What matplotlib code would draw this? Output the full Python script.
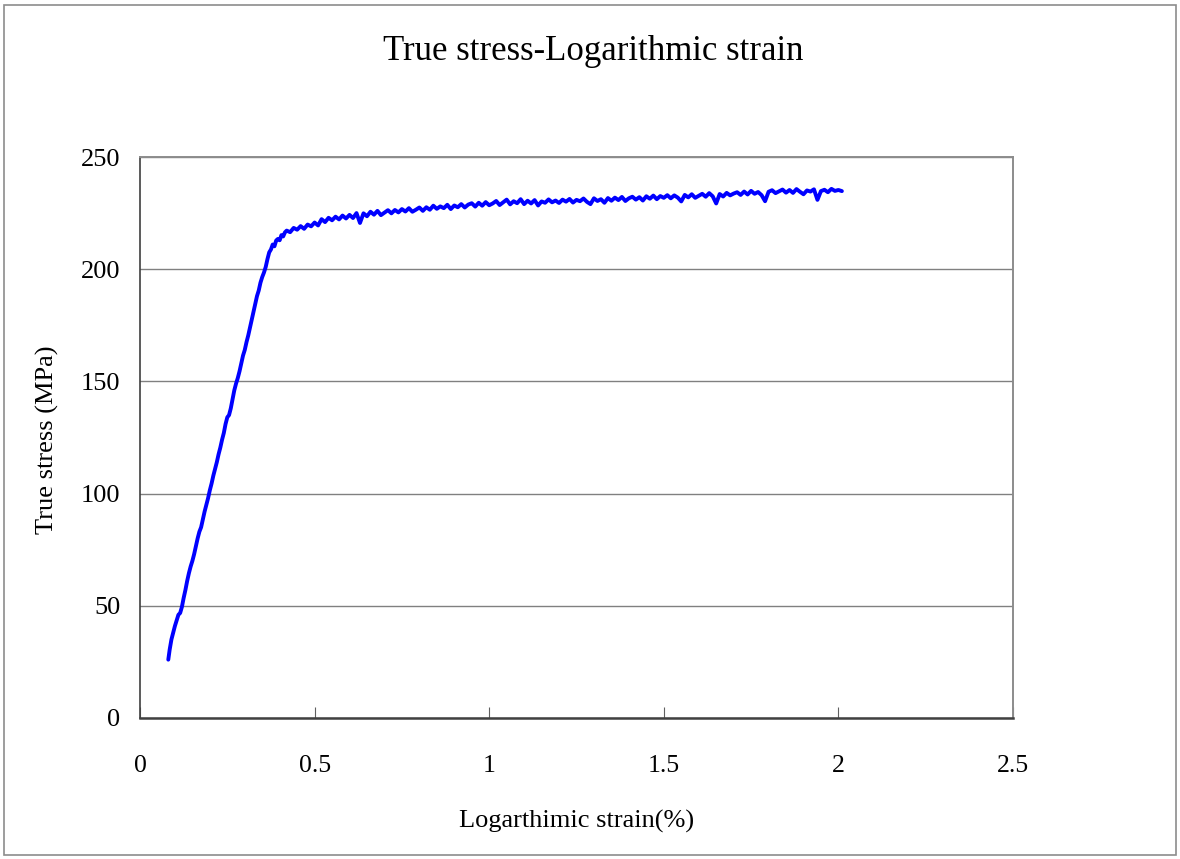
import matplotlib
matplotlib.use("Agg")
import matplotlib.pyplot as plt
from matplotlib.patches import Rectangle

plt.rcParams['font.family'] = ['Liberation Serif', 'DejaVu Serif']

title = "True stress-Logarithmic strain"
xlabel = "Logarthimic strain(%)"
ylabel = "True stress (MPa)"
xticks = [0, 0.5, 1, 1.5, 2, 2.5]
xticklabels = ["0", "0.5", "1", "1.5", "2", "2.5"]
yticks = [0, 50, 100, 150, 200, 250]
yticklabels = ["0", "50", "100", "150", "200", "250"]

# elastic / rising part
strain_rise = [0.081, 0.085, 0.090, 0.095, 0.100, 0.105, 0.110, 0.115, 0.120, 0.125,
               0.130, 0.135, 0.140, 0.145, 0.150, 0.155, 0.160, 0.165, 0.170, 0.175,
               0.180, 0.185, 0.190, 0.195, 0.200, 0.205, 0.210, 0.215, 0.220, 0.225,
               0.230, 0.235, 0.240, 0.245, 0.250, 0.255, 0.260, 0.265, 0.270, 0.275,
               0.280, 0.285, 0.290, 0.295, 0.300, 0.305, 0.310, 0.315, 0.320, 0.325,
               0.330, 0.335, 0.340, 0.345, 0.350, 0.355, 0.360, 0.365, 0.370, 0.375,
               0.380, 0.385, 0.390, 0.395, 0.400, 0.405, 0.410, 0.415]
stress_rise = [26.0, 30.5, 35.0, 38.0, 41.0, 43.5, 46.0, 46.8, 49.5, 53.5,
               57.0, 61.0, 64.5, 67.5, 70.0, 73.0, 76.5, 80.0, 83.0, 85.0,
               88.5, 92.0, 95.0, 98.0, 101.5, 104.5, 108.0, 111.0, 114.0, 117.5,
               120.5, 124.0, 127.0, 131.0, 134.0, 135.0, 138.0, 142.0, 146.0, 149.0,
               151.5, 154.5, 158.0, 161.5, 164.0, 167.5, 170.5, 174.0, 177.5, 181.0,
               184.5, 188.0, 190.5, 194.0, 196.5, 198.5, 201.0, 204.5, 207.5, 208.8,
               211.0, 210.2, 212.8, 213.5, 212.9, 215.2, 214.6, 216.4]

# plastic plateau
strain_plat = [0.42, 0.43, 0.44, 0.45, 0.46, 0.47, 0.48, 0.49, 0.50, 0.51,
               0.52, 0.53, 0.54, 0.55, 0.56, 0.57, 0.58, 0.59, 0.60, 0.61,
               0.62, 0.63, 0.64, 0.65, 0.66, 0.67, 0.68, 0.69, 0.70, 0.71,
               0.72, 0.73, 0.74, 0.75, 0.76, 0.77, 0.78, 0.79, 0.80, 0.81,
               0.82, 0.83, 0.84, 0.85, 0.86, 0.87, 0.88, 0.89, 0.90, 0.91,
               0.92, 0.93, 0.94, 0.95, 0.96, 0.97, 0.98, 0.99, 1.00, 1.01,
               1.02, 1.03, 1.04, 1.05, 1.06, 1.07, 1.08, 1.09, 1.10, 1.11,
               1.12, 1.13, 1.14, 1.15, 1.16, 1.17, 1.18, 1.19, 1.20, 1.21,
               1.22, 1.23, 1.24, 1.25, 1.26, 1.27, 1.28, 1.29, 1.30, 1.31,
               1.32, 1.33, 1.34, 1.35, 1.36, 1.37, 1.38, 1.39, 1.40, 1.41,
               1.42, 1.43, 1.44, 1.45, 1.46, 1.47, 1.48, 1.49, 1.50, 1.51,
               1.52, 1.53, 1.54, 1.55, 1.56, 1.57, 1.58, 1.59, 1.60, 1.61,
               1.62, 1.63, 1.64, 1.65, 1.66, 1.67, 1.68, 1.69, 1.70, 1.71,
               1.72, 1.73, 1.74, 1.75, 1.76, 1.77, 1.78, 1.79, 1.80, 1.81,
               1.82, 1.83, 1.84, 1.85, 1.86, 1.87, 1.88, 1.89, 1.90, 1.91,
               1.92, 1.93, 1.94, 1.95, 1.96, 1.97, 1.98, 1.99, 2.00, 2.01]
stress_plat = [217.2, 216.5, 218.4, 217.6, 219.2, 218.0, 219.9, 219.1, 220.8, 219.5,
               222.3, 221.0, 222.9, 221.8, 223.4, 222.2, 223.9, 222.6, 224.2, 222.8,
               225.0, 220.6, 224.9, 223.6, 225.6, 224.3, 226.0, 224.1, 225.2, 226.3,
               224.9, 226.4, 225.3, 226.8, 225.7, 227.2, 225.6, 226.5, 227.5, 226.0,
               227.6, 226.5, 228.3, 226.9, 228.0, 227.2, 228.7, 226.8, 228.4, 227.6,
               229.0, 227.5, 228.8, 229.4, 227.9, 229.6, 228.3, 229.9, 228.5, 229.3,
               230.4, 228.6, 229.8, 231.0, 228.9, 230.3, 229.4, 231.2, 229.0, 230.5,
               229.3, 230.8, 228.4, 230.2, 229.6, 231.1, 229.8, 230.6, 229.5, 231.0,
               230.1, 231.3, 229.7, 230.9, 230.3, 231.5, 230.0, 229.0, 231.6, 230.4,
               231.2, 229.6, 231.7, 230.5, 231.9, 230.8, 232.2, 230.4, 231.6, 232.3,
               231.0, 232.1, 230.6, 232.5, 231.4, 232.8, 231.2, 232.6, 231.8, 233.0,
               231.6, 232.9, 231.9, 230.2, 233.1, 232.0, 233.4, 231.8, 232.7, 233.6,
               232.3, 233.9, 232.5, 229.3, 233.5, 232.4, 234.0, 232.9, 233.7, 234.3,
               233.1, 234.6, 233.3, 234.9, 233.6, 234.4, 233.0, 230.3, 234.5, 235.2,
               233.9, 234.7, 235.5, 234.1, 235.3, 234.0, 235.7, 234.5, 233.4, 235.1,
               234.6, 235.6, 230.9, 234.8, 235.4, 234.3, 235.8, 234.9, 235.3, 234.8]

strain = strain_rise + strain_plat
stress = stress_rise + stress_plat

W, H = 1180, 859
fig = plt.figure(figsize=(W / 100, H / 100), dpi=100)
fig.patch.set_facecolor('white')

# outer chart border
fig.patches.append(Rectangle((4 / W, 4 / H), (W - 8) / W, (H - 9) / H,
                             transform=fig.transFigure, fill=False,
                             edgecolor='#8c8c8c', linewidth=1.2))

ax = fig.add_axes([140 / W, 1 - 718 / H, (1013 - 140) / W, (718 - 157) / H])
ax.plot(strain, stress, color='#0000ff', linewidth=2.8, solid_joinstyle='round',
        solid_capstyle='round')

ax.set_xlim(0, 2.5)
ax.set_ylim(0, 250)
ax.set_xticks(xticks)
ax.set_xticklabels(xticklabels, fontsize=18.5)
ax.set_yticks(yticks)
ax.set_yticklabels(yticklabels, fontsize=19)
ax.tick_params(axis='x', direction='in', length=8, width=0.8, color='#606060', pad=27)
ax.tick_params(axis='y', length=0, pad=14)
ax.yaxis.grid(True, color='#808080', linewidth=1.0)
ax.set_axisbelow(True)

ax.spines['left'].set_color('#404040')
ax.spines['left'].set_linewidth(1.2)
ax.spines['bottom'].set_color('#404040')
ax.spines['bottom'].set_linewidth(1.8)
ax.spines['top'].set_color('#8c8c8c')
ax.spines['top'].set_linewidth(1.4)
ax.spines['right'].set_color('#8c8c8c')
ax.spines['right'].set_linewidth(1.4)

fig.text(593 / W, 1 - 52 / H, title, fontsize=25, ha='center', va='center')
fig.text(577 / W, 1 - 821 / H, xlabel, fontsize=19, ha='center', va='center')
fig.text(47 / W, 1 - 440 / H, ylabel, fontsize=19, ha='center', va='center',
         rotation=90)

fig.savefig('out.png', dpi=100)
